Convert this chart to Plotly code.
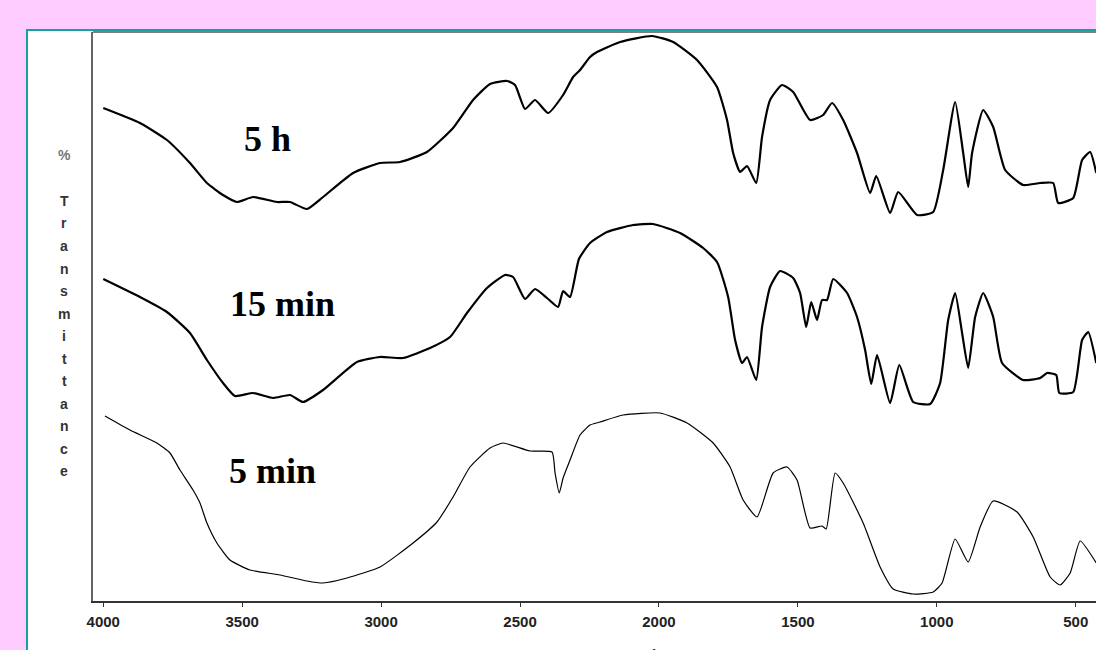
import plotly.graph_objects as go

# ---- data (wavenumber cm-1, transmittance in arbitrary offset units) ----
wn_5h = [4000, 3868, 3771, 3688, 3627, 3569, 3519, 3461, 3375, 3328, 3267, 3209, 3101, 3004, 2932,
         2835, 2741, 2669, 2608, 2547, 2518, 2482, 2446, 2399, 2345, 2309, 2284, 2248, 2223, 2140,
         2025, 1949, 1863, 1791, 1755, 1733, 1708, 1683, 1650, 1629, 1600, 1557, 1517, 1456, 1409,
         1377, 1337, 1287, 1240, 1218, 1168, 1139, 1071, 1013, 977, 934, 905, 887, 873, 833, 797,
         754, 689, 628, 581, 563, 509, 477, 448, 426]
t_5h = [493, 478, 461, 438, 418, 406, 399, 404, 399, 399, 392, 404, 428, 438, 439,
        449, 473, 501, 517, 520, 516, 492, 501, 488, 506, 524, 531, 544, 549, 559,
        565, 559, 541, 514, 481, 448, 429, 435, 418, 464, 501, 516, 509, 481, 486,
        498, 481, 448, 408, 425, 388, 409, 386, 389, 431, 499, 448, 414, 448, 491, 474,
        431, 416, 418, 418, 398, 403, 441, 449, 428]

wn_15min = [4000, 3868, 3771, 3688, 3627, 3569, 3526, 3461, 3389, 3328, 3281, 3209, 3087, 3004, 2921,
            2824, 2752, 2691, 2619, 2554, 2525, 2482, 2446, 2403, 2363, 2345, 2320, 2288, 2248, 2187,
            2093, 2021, 1924, 1841, 1791, 1751, 1726, 1701, 1683, 1650, 1629, 1600, 1564, 1517, 1492,
            1470, 1452, 1431, 1413, 1395, 1373, 1323, 1287, 1258, 1236, 1215, 1168, 1135, 1085, 1024,
            988, 959, 934, 909, 887, 862, 833, 797, 765, 689, 628, 603, 570, 559, 509, 477, 455, 426]
t_15min = [322, 304, 289, 268, 241, 218, 205, 208, 203, 206, 199, 211, 239, 244, 243,
           253, 264, 288, 313, 326, 324, 302, 312, 303, 294, 310, 304, 342, 358, 369,
           376, 377, 368, 353, 339, 304, 261, 238, 244, 221, 274, 314, 330, 323, 308,
           274, 299, 281, 301, 301, 322, 308, 284, 251, 217, 246, 198, 236, 199, 197,
           218, 281, 308, 268, 233, 284, 308, 284, 238, 221, 223, 228, 226, 208, 209, 261, 269, 238]

wn_5min = [3994, 3904, 3807, 3760, 3724, 3677, 3652, 3627, 3591, 3544, 3472, 3364, 3267, 3209, 3123,
           3004, 2885, 2799, 2741, 2680, 2608, 2561, 2464, 2385, 2374, 2359, 2345, 2320, 2284, 2248,
           2212, 2129, 1996, 1899, 1805, 1744, 1697, 1647, 1589, 1539, 1503, 1456, 1413, 1398, 1366,
           1337, 1265, 1204, 1157, 1085, 1013, 981, 934, 887, 844, 797, 711, 653, 592, 556, 520, 484, 426]
t_5min = [185, 171, 158, 148, 131, 111, 98, 78, 58, 41, 31, 26, 20, 18, 23,
          34, 58, 79, 104, 134, 153, 158, 150, 149, 128, 108, 123, 141, 166, 176,
          179, 186, 188, 178, 158, 134, 101, 84, 128, 134, 121, 73, 75, 72, 128,
          118, 78, 34, 12, 7, 9, 18, 62, 39, 74, 100, 89, 64, 24, 16, 28, 60, 38]

x_ticks = [4000, 3500, 3000, 2500, 2000, 1500, 1000, 500]
labels = ["5 h", "15 min", "5 min"]
label_pos_wn = [3410, 3355, 3390]
label_pos_t = [462, 297, 130]
ylabel_letters = ["%", "T", "r", "a", "n", "s", "m", "i", "t", "t", "a", "n", "c", "e"]

W, H = 1096, 650
L, R, T, B = 93, 0, 32, 49

fig = go.Figure()
for wn, tt, w in [(wn_5h, t_5h, 2.2), (wn_15min, t_15min, 2.2), (wn_5min, t_5min, 1.2)]:
    fig.add_trace(go.Scatter(x=wn, y=tt, mode="lines",
                             line=dict(color="black", width=w, shape="spline", smoothing=0.5),
                             showlegend=False, hoverinfo="skip"))

for txt, xw, yt in zip(labels, label_pos_wn, label_pos_t):
    fig.add_annotation(x=xw, y=yt, xref="x", yref="y", text="<b>" + txt + "</b>", showarrow=False,
                       font=dict(family="Liberation Serif, Times New Roman, serif", size=36, color="black"),
                       xanchor="center", yanchor="middle")

pw = W - L - R
ph = H - T - B
def px_x(p):
    return (p - L) / pw
def px_y(p):
    return (H - B - p) / ph

# y-axis label as stacked letters
for i, ch in enumerate(ylabel_letters):
    yy = 155 if i == 0 else 201 + (i - 1) * 22.5
    fig.add_annotation(x=px_x(64), y=px_y(yy), xref="paper", yref="paper", text=ch, showarrow=False,
                       font=dict(family="Liberation Sans Narrow, Arial Narrow, Liberation Sans, Arial",
                                 size=14, color="#333333" if i else "#777777", weight="bold"),
                       xanchor="center", yanchor="middle")

# x-axis title (mostly cut off by the bottom edge, as in the source)
fig.add_annotation(x=px_x(588), y=px_y(645), xref="paper", yref="paper",
                   text="Wavenumbers (cm<sup>-1</sup>)", showarrow=False,
                   font=dict(family="Liberation Sans Narrow, Arial Narrow, Liberation Sans, Arial",
                             size=15, color="#222222", weight="bold"),
                   xanchor="center", yanchor="top")

# white panel with teal border
fig.add_shape(type="rect", xref="paper", yref="paper", x0=px_x(27), x1=px_x(1200), y0=px_y(30), y1=px_y(800),
              fillcolor="white", line=dict(width=0), layer="below")
fig.add_shape(type="line", xref="paper", yref="paper", x0=px_x(26), x1=px_x(1200), y0=px_y(30), y1=px_y(30),
              line=dict(color="#17a0a0", width=2))
fig.add_shape(type="line", xref="paper", yref="paper", x0=px_x(27), x1=px_x(27), y0=px_y(29), y1=px_y(800),
              line=dict(color="#17a0a0", width=2))
# plot box top line
fig.add_shape(type="line", xref="paper", yref="paper", x0=0, x1=px_x(1200), y0=1, y1=1,
              line=dict(color="#555555", width=1.5))

fig.update_layout(
    width=W, height=H,
    margin=dict(l=L, r=R, t=T, b=B, autoexpand=False),
    paper_bgcolor="#FFCCFF",
    plot_bgcolor="rgba(0,0,0,0)",
    showlegend=False,
    xaxis=dict(range=[4037, 427], tickvals=x_ticks, ticktext=[str(v) for v in x_ticks],
               ticks="outside", ticklen=4, tickwidth=1.2, tickcolor="#333333",
               showline=True, linecolor="#333333", linewidth=1.5,
               showgrid=False, zeroline=False, ticklabelstandoff=2,
               tickfont=dict(family="Liberation Sans Narrow, Arial Narrow, Liberation Sans, Arial",
                             size=15, color="#222222", weight="bold")),
    yaxis=dict(range=[0, 569], showticklabels=False, ticks="", showgrid=False, zeroline=False,
               showline=True, linecolor="#666666", linewidth=1.5),
)

fig.write_html("out.html", config={"displayModeBar": False},
               post_script="document.body.style.margin='0';document.body.style.overflow='hidden';")
